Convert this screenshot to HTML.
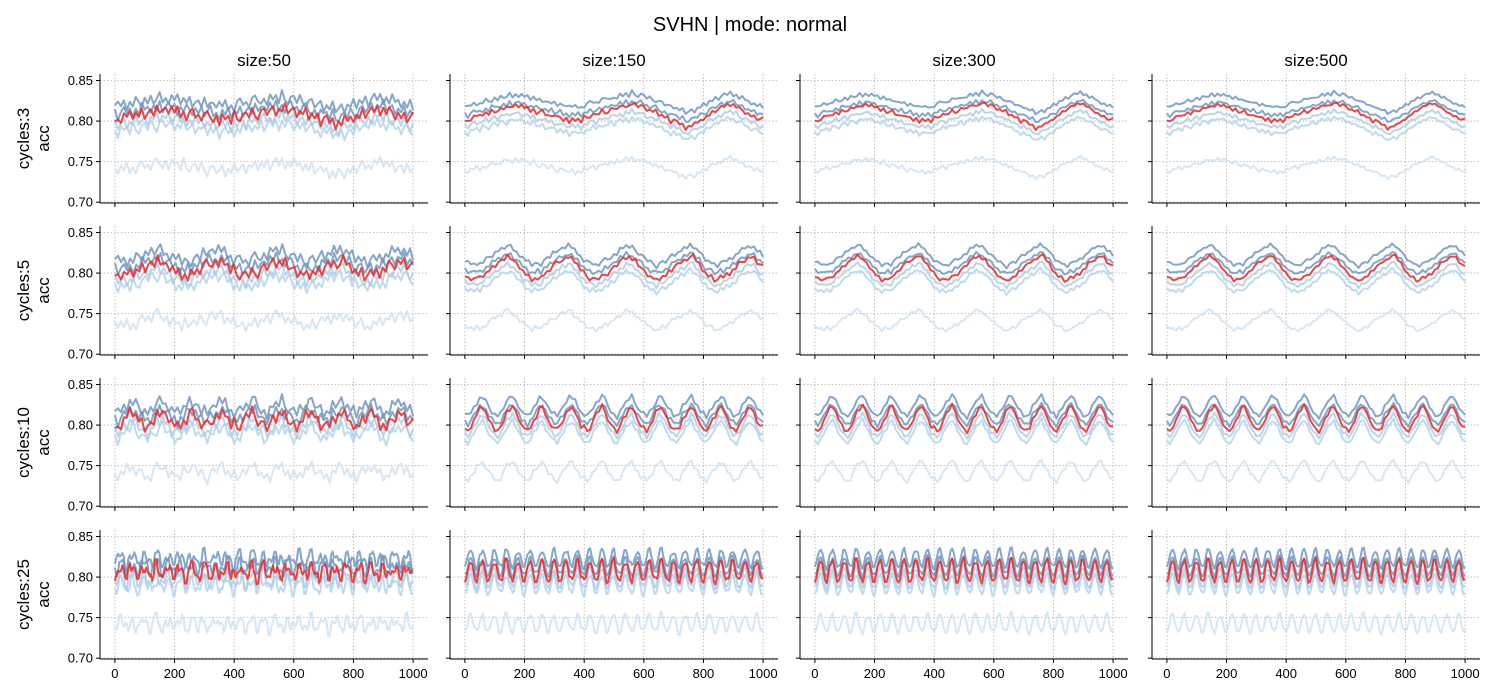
<!DOCTYPE html>
<html><head><meta charset="utf-8">
<style>
body{margin:0;background:#fff;}
svg{display:block;font-family:"Liberation Sans","DejaVu Sans",sans-serif;}
</style></head>
<body>
<svg id="fig" width="1500" height="700" viewBox="0 0 1500 700">
<rect width="1500" height="700" fill="#fff"/>
<text x="750" y="31" text-anchor="middle" font-size="20" fill="#000">SVHN | mode: normal</text>
</svg>
<script>
// ---- data ----
const sizes = ["size:50","size:150","size:300","size:500"];
const cycles = ["cycles:3","cycles:5","cycles:10","cycles:25"];
const yTicks = [0.70,0.75,0.80,0.85];
const yTickLabels = ["0.70","0.75","0.80","0.85"];
const xTicks = [0,200,400,600,800,1000];
// line centre levels (acc): lightest, light1, light2, dark1, dark2, red
const lineLevels = [0.741,0.789,0.797,0.811,0.821,0.805];
const lineWaveAmp = [0.9,1.0,1.0,0.9,0.9,1.1];
const lineJitterShift = [0,17,33,51,68,84];
// per-column scaling (dataset size)
const colNoise = [0.9,0.35,0.25,0.2];
const colWave = [0.9,1.5,1.6,1.6];
// periodic wave per row, deviation in units of 0.001
const waveC3 = [-2,-3,-1,0,1,0,2,3,2,4,5,4,6,7,6,8,7,9,8,8,7,6,5,6,4,3,4,2,1,2,0,-1,0,-2,-1,-3,-2,-3,-2,-3,-1,0,1,2,1,3,4,3,5,6,5,7,8,7,9,8,10,9,8,9,7,6,5,4,4,2,1,0,-1,-3,-2,-4,-5,-6,-8,-7,-6,-6,-4,-3,-1,0,2,3,5,6,7,8,9,10,9,8,6,5,4,2,1,0,-1,-2,-2];
const waveC5 = [-5,-6,-7,-8,-6,-7,-5,-3,-1,1,3,5,6,8,9,8,6,4,1,-2,
-4,-6,-8,-7,-6,-7,-4,-2,0,2,4,5,7,8,10,8,5,3,0,-3,
-5,-7,-7,-8,-7,-6,-4,-3,-1,1,3,6,7,9,9,7,6,3,1,-2,
-4,-6,-7,-9,-7,-6,-5,-2,0,2,3,5,6,8,10,9,6,4,0,-3,
-5,-6,-8,-8,-6,-6,-4,-3,-1,1,4,5,7,8,9,8,5,3,1];
const waveC10 = [-5,-7,-4,0,5,9,10,6,1,-3,
-6,-7,-5,1,6,8,11,7,2,-4,
-5,-8,-4,0,4,9,10,5,0,-3,
-6,-7,-3,1,6,10,9,6,1,-4,
-5,-7,-5,0,5,8,11,7,2,-3,
-6,-8,-4,1,5,9,10,5,1,-4,
-5,-7,-4,0,6,10,9,6,0,-3,
-6,-7,-5,1,5,8,11,6,2,-4,
-5,-8,-3,0,4,9,10,7,1,-3,
-6,-7,-4,1,6,9,10,5,0,-4,-5];
const waveC25 = [-6,-3,3,8,9,5,-1,-5,-7,-2,4,7,10,4,-2,-6,-5,-3,2,8,8,6,0,-5,-6,-4,3,9,9,5,-1,-4,-7,-3,4,7,8,4,-2,-6,
-6,-2,3,8,10,5,-1,-5,-5,-3,2,8,9,5,0,-5,-7,-4,3,7,9,4,-1,-6,-6,-3,4,8,8,6,-1,-4,-6,-2,3,9,10,4,-2,-5,
-7,-3,3,8,9,5,0,-5,-6,-4,2,7,9,5,-1,-6,-5,-2,4,8,10,4,-1,-5,-6,-3,3,8,8,6,0,-4,-7,-3,3,7,9,5,-2,-6,
-6,-2,4,8,9,4,-1,-5,-5,-3,3,9,10,5,0,-5,-6,-4,2,7,8,5,-1,-6,-7,-3,3,8,9,6,-1,-4,-6,-2,4,8,10,4,-2,-5,
-6,-3,3,7,9,5,0,-5,-7,-4,3,8,8,5,-1,-6,-5,-2,4,9,9,4,-1,-5,-6,-3,2,8,10,5,0,-4,-6,-3,3,7,9,5,-2,-6,-5];
const jitter = [3,-4,6,-2,8,-6,1,-9,4,7,-3,2,-7,5,9,-1,-5,3,-8,6,0,4,-6,10,-3,-7,2,5,-4,8,-2,-9,3,6,-5,1,7,-8,2,-3,
9,-4,0,5,-7,3,-1,8,-6,4,-2,6,-9,1,7,-3,5,-8,2,-5,9,-1,4,-6,3,-4,8,-7,0,6,-2,5,-9,3,-5,7,1,-8,4,-3,
6,-6,2,9,-4,0,-7,5,-1,8,-5,3,-2,7,-8,1,4,-6,9,-3,2];
const rowWaves = [waveC3, waveC5, waveC10, waveC25];
const lineColors = ["#cfe2f1","#b4d3ea","#aecde6","#6f96c2","#6f96c2","#ee2a2a"];
const lineOpacity = [0.85,0.85,0.85,0.85,0.85,0.88];
const lineWidths = [2,2,2,2,2,2];

// ---- geometry ----
const colLeft = [100,450,800,1152];
const rowTop = [74,226,378,530];
const W = 328, H = 129;
const yMin = 0.699, yMax = 0.858, xMin = -50, xMax = 1050;
const NS = "http://www.w3.org/2000/svg";
const svg = document.getElementById('fig');
function el(tag, attrs, parent){const e=document.createElementNS(NS,tag);for(const k in attrs)e.setAttribute(k,attrs[k]);(parent||svg).appendChild(e);return e;}

cycles.forEach((cyc, r) => {
  sizes.forEach((sz, c) => {
    const x0 = colLeft[c], y0 = rowTop[r];
    const xs = v => x0 + (v - xMin) / (xMax - xMin) * W;
    const ys = v => y0 + H - (v - yMin) / (yMax - yMin) * H;
    const g = el('g', {});
    
    
    xTicks.forEach(t => {
      const l = el('line', {x1:xs(t), x2:xs(t), y1:y0, y2:y0+H, stroke:'#b0b0b0', 'stroke-width':0.8, 'stroke-dasharray':'1.5,2'}, g);
      
      
    });
    yTicks.forEach(t => {
      const l = el('line', {x1:x0, x2:x0+W, y1:ys(t), y2:ys(t), stroke:'#b0b0b0', 'stroke-width':0.8, 'stroke-dasharray':'1.5,2'}, g);
      
      
    });
    const wave = rowWaves[r];
    const n = wave.length;
    lineLevels.forEach((lvl, k) => {
      let d = '';
      for (let j = 0; j < n; j++) {
        const xv = j * 1000 / (n - 1);
        const ji = (Math.round(j * 100 / (n - 1)) + lineJitterShift[k]) % jitter.length;
        const v = lvl + (wave[j] * colWave[c] * lineWaveAmp[k] + jitter[ji] * colNoise[c]) / 1000;
        d += (j ? 'L' : 'M') + xs(xv).toFixed(1) + ',' + ys(v).toFixed(1);
      }
      const p = el('path', {d:d, fill:'none', stroke:lineColors[k], 'stroke-opacity':lineOpacity[k], 'stroke-width':lineWidths[k], 'stroke-linejoin':'round'}, g);
      
      
    });
    const sl = el('line', {x1:x0, x2:x0, y1:y0, y2:y0+H, stroke:'#000', 'stroke-width':1}, g);
    
    
    const sb = el('line', {x1:x0, x2:x0+W, y1:y0+H, y2:y0+H, stroke:'#000', 'stroke-width':1}, g);
    
    
    yTicks.forEach((t, i) => {
      const tk = el('line', {x1:x0-4, x2:x0, y1:ys(t), y2:ys(t), stroke:'#000', 'stroke-width':1}, g);
      
      
      if (c === 0) {
        const tx = el('text', {x:x0-7, y:ys(t)+4.5, 'text-anchor':'end', 'font-size':13, fill:'#000'}, g);
        tx.textContent = yTickLabels[i];
        
        
      }
    });
    xTicks.forEach(t => {
      const tk = el('line', {x1:xs(t), x2:xs(t), y1:y0+H, y2:y0+H+4, stroke:'#000', 'stroke-width':1}, g);
      
      
      if (r === 3) {
        const tx = el('text', {x:xs(t), y:y0+H+19, 'text-anchor':'middle', 'font-size':13, fill:'#000'}, g);
        tx.textContent = String(t);
        
        
      }
    });
    if (r === 0) {
      const ct = el('text', {x:x0+W/2, y:66, 'text-anchor':'middle', 'font-size':17, fill:'#000'}, g);
      ct.textContent = sz;
      
      
    }
    if (c === 0) {
      const cy = y0 + H/2;
      const rl = el('text', {x:0, y:0, 'text-anchor':'middle', 'font-size':17, fill:'#000', transform:'translate(29,'+cy+') rotate(-90)'}, g);
      rl.textContent = cyc;
      
      
      const al = el('text', {x:0, y:0, 'text-anchor':'middle', 'font-size':17, fill:'#000', transform:'translate(49,'+cy+') rotate(-90)'}, g);
      al.textContent = 'acc';
      
      
    }
  });
});
</script>
</body></html>
